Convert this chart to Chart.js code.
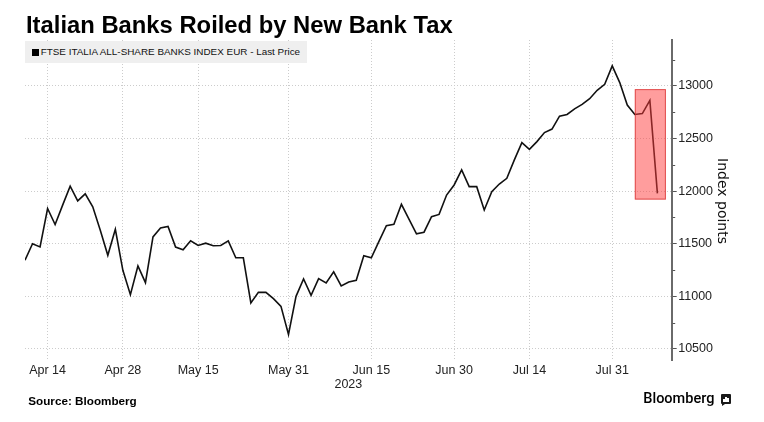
<!DOCTYPE html>
<html>
<head>
<meta charset="utf-8">
<script src="https://cdn.jsdelivr.net/npm/chart.js@4.4.0/dist/chart.umd.min.js"></script>
<style>
  html, body { margin: 0; padding: 0; background: #ffffff; }
  #wrap { position: relative; width: 764px; height: 422px; overflow: hidden; background: #fff; }
  #chartbox { position: absolute; left: 0; top: 0; width: 764px; height: 422px; }
  #title { position: absolute; left: 26px; top: 13px; font-family: 'Liberation Sans', Arial, sans-serif; font-weight: bold; font-size: 23.8px; line-height: 23.8px; color: #000; white-space: nowrap; z-index: 2; }
  #legend { position: absolute; left: 25px; top: 41px; width: 282px; height: 22px; background: #efefef; z-index: 2; }
  #legend .sq { position: absolute; left: 7px; top: 8px; width: 7px; height: 7px; background: #000; }
  #legend .txt { position: absolute; left: 15.7px; top: 6.3px; font-family: 'Liberation Sans', Arial, sans-serif; font-size: 9.9px; line-height: 9.9px; color: #111; white-space: nowrap; }
  #ytitle { position: absolute; left: 662.5px; top: 192.5px; width: 120px; height: 16px; line-height: 16px; text-align: center; font-family: 'DejaVu Sans', sans-serif; font-size: 14px; color: #111; transform: rotate(90deg); z-index: 2; white-space: nowrap; }
  #source { position: absolute; left: 28.3px; top: 395px; font-family: 'Liberation Sans', Arial, sans-serif; font-weight: bold; font-size: 11.7px; line-height: 11.7px; color: #000; white-space: nowrap; z-index: 2; }
  #logo { position: absolute; left: 643.3px; top: 391.8px; font-family: Roboto, 'Liberation Sans', sans-serif; font-weight: 500; font-size: 14.5px; line-height: 14.5px; color: #000; white-space: nowrap; z-index: 2; }
  #icon { position: absolute; left: 720.7px; top: 394px; width: 10px; height: 10px; background: #1a1a1a; border-radius: 1px; z-index: 2; }
  #icon:after { content: ''; position: absolute; left: 1px; bottom: -2px; width: 0; height: 0; border-left: 3px solid #1a1a1a; border-bottom: 2px solid transparent; }
  #icon i { position: absolute; bottom: 2px; width: 1.4px; background: #fff; }
</style>
</head>
<body>
<div id="wrap">
  <div id="chartbox"><canvas id="c"></canvas></div>
  <div id="title">Italian Banks Roiled by New Bank Tax</div>
  <div id="legend"><span class="sq"></span><span class="txt" id="legendText"></span></div>
  <div id="ytitle">Index points</div>
  <div id="source">Source: Bloomberg</div>
  <div id="logo">Bloomberg</div>
  <div id="icon"><i style="left:2.5px;height:3px"></i><i style="left:4.5px;height:5px"></i><i style="left:6.5px;height:4px"></i></div>
</div>
<script>
// ---- data (trading days, 2023) ----
const dates = [
  'Apr 11','Apr 12','Apr 13','Apr 14',
  'Apr 17','Apr 18','Apr 19','Apr 20','Apr 21',
  'Apr 24','Apr 25','Apr 26','Apr 27','Apr 28',
  'May 2','May 3','May 4','May 5',
  'May 8','May 9','May 10','May 11','May 12',
  'May 15','May 16','May 17','May 18','May 19',
  'May 22','May 23','May 24','May 25','May 26',
  'May 29','May 30','May 31','Jun 1','Jun 2',
  'Jun 5','Jun 6','Jun 7','Jun 8','Jun 9',
  'Jun 12','Jun 13','Jun 14','Jun 15','Jun 16',
  'Jun 19','Jun 20','Jun 21','Jun 22','Jun 23',
  'Jun 26','Jun 27','Jun 28','Jun 29','Jun 30',
  'Jul 3','Jul 4','Jul 5','Jul 6','Jul 7',
  'Jul 10','Jul 11','Jul 12','Jul 13','Jul 14',
  'Jul 17','Jul 18','Jul 19','Jul 20','Jul 21',
  'Jul 24','Jul 25','Jul 26','Jul 27','Jul 28',
  'Jul 31','Aug 1','Aug 2','Aug 3','Aug 4',
  'Aug 7','Aug 8'
];
const lastPrice = [
  11343, 11500, 11470, 11835,
  11683, 11867, 12048, 11908, 11975,
  11851, 11628, 11390, 11638, 11248,
  11016, 11289, 11130, 11565,
  11649, 11665, 11468, 11443, 11528,
  11484, 11506, 11481, 11484, 11528,
  11367, 11367, 10937, 11038, 11038,
  10978, 10905, 10638, 11000, 11166,
  11010, 11169, 11128, 11233, 11099,
  11137, 11153, 11387, 11367, 11521,
  11671, 11684, 11875, 11735, 11594,
  11610, 11757, 11779, 11963, 12059,
  12202, 12043, 12043, 11821, 11995,
  12068, 12122, 12297, 12462, 12398,
  12471, 12557, 12590, 12713, 12729,
  12783, 12825, 12879, 12959, 13016,
  13191, 13032, 12818, 12729, 12738,
  12863, 11979
];
const xTickLabels = ['Apr 14','Apr 28','May 15','May 31','Jun 15','Jun 30','Jul 14','Jul 31'];
const yMajorTicks = [10500, 11000, 11500, 12000, 12500, 13000];
const yMinorTicks = [10750, 11250, 11750, 12250, 12750, 13250];
const yearLabel = '2023';
const seriesName = 'FTSE ITALIA ALL-SHARE BANKS INDEX EUR - Last Price';
const highlightDays = ['Aug 3', 'Aug 8'];
const highlightValues = [11920, 12970];

document.getElementById('legendText').textContent = seriesName;

const tickFont = { family: "'Liberation Sans', Arial, sans-serif", size: 12.5 };

const highlightPlugin = {
  id: 'highlight',
  afterDatasetsDraw(chart) {
    const ctx = chart.ctx, xs = chart.scales.x, ys = chart.scales.y;
    const x1 = xs.getPixelForValue(dates.indexOf(highlightDays[0]));
    const x2 = xs.getPixelForValue(dates.indexOf(highlightDays[1])) + 8.5;
    const y1 = ys.getPixelForValue(highlightValues[1]);
    const y2 = ys.getPixelForValue(highlightValues[0]);
    ctx.save();
    ctx.fillStyle = 'rgba(255, 60, 60, 0.5)';
    ctx.fillRect(x1, y1, x2 - x1, y2 - y1);
    ctx.strokeStyle = 'rgba(215, 50, 50, 0.75)';
    ctx.lineWidth = 1;
    ctx.strokeRect(x1 + 0.5, y1 + 0.5, x2 - x1 - 1, y2 - y1 - 1);
    ctx.restore();
  },
  afterDraw(chart) {
    const ctx = chart.ctx, ys = chart.scales.y;
    const ax = chart.chartArea.right;
    ctx.save();
    ctx.strokeStyle = '#555';
    ctx.lineWidth = 1;
    yMinorTicks.forEach(v => {
      const y = Math.round(ys.getPixelForValue(v)) + 0.5;
      ctx.beginPath();
      ctx.moveTo(ax + 1, y);
      ctx.lineTo(ax + 3.5, y);
      ctx.stroke();
    });
    ctx.restore();
  }
};

new Chart(document.getElementById('c'), {
  type: 'line',
  data: {
    datasets: [{
      label: seriesName,
      data: lastPrice.map((v, i) => ({ x: i, y: v })),
      borderColor: '#111111',
      borderWidth: 1.6,
      pointRadius: 0,
      tension: 0,
      fill: false
    }]
  },
  options: {
    responsive: true,
    maintainAspectRatio: false,
    animation: false,
    layout: { padding: { left: 25, top: 40, right: 0, bottom: 30 } },
    plugins: { legend: { display: false }, tooltip: { enabled: false } },
    scales: {
      x: {
        type: 'linear',
        min: 0,
        max: 85.9,
        afterBuildTicks: s => { s.ticks = xTickLabels.map(l => ({ value: dates.indexOf(l) })); },
        afterFit: s => { s.height = 32; },
        ticks: {
          autoSkip: false, maxRotation: 0, minRotation: 0,
          callback: v => dates[v],
          font: tickFont, color: '#222', padding: 3
        },
        grid: { color: '#cccccc', lineWidth: 1, drawTicks: false },
        border: { display: false, dash: [1, 2] },
        title: { display: true, text: yearLabel, font: tickFont, color: '#222', padding: { top: 0, bottom: 0 } }
      },
      y: {
        type: 'linear',
        position: 'right',
        min: 10395,
        max: 13437,
        afterBuildTicks: s => {
          s.ticks = yMajorTicks.concat(yMinorTicks).sort((a, b) => a - b).map(v => ({ value: v }));
        },
        afterFit: s => { s.width = 92.3; },
        ticks: {
          callback: v => yMajorTicks.includes(v) ? String(v) : '',
          font: tickFont, color: '#222', padding: 1.5
        },
        grid: {
          color: c => (c.tick && yMajorTicks.includes(c.tick.value)) ? '#cccccc' : 'rgba(0,0,0,0)',
          tickColor: c => (c.tick && yMajorTicks.includes(c.tick.value)) ? '#555' : 'rgba(0,0,0,0)',
          tickLength: 5,
          drawTicks: true
        },
        border: { display: true, color: '#6a6a6a', width: 2, dash: [1, 2] }
      }
    }
  },
  plugins: [highlightPlugin]
});
</script>
</body>
</html>
